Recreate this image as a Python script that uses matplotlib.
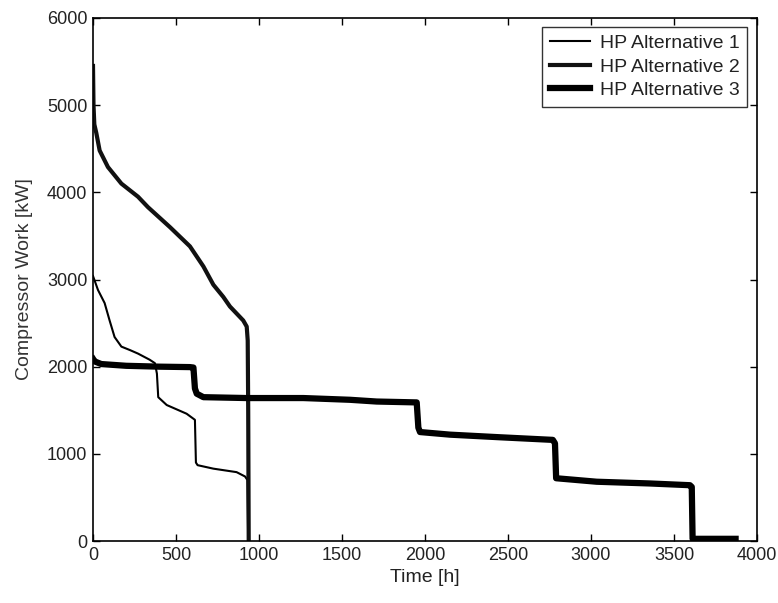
import matplotlib
matplotlib.use("Agg")
import matplotlib.pyplot as plt

plt.rcParams['font.family'] = ['Liberation Sans', 'DejaVu Sans']

# Series data (Time [h], Compressor Work [kW])
time_alt1 = [0, 30, 70, 100, 130, 171, 223, 271, 341, 373, 385, 393, 444, 564, 614, 620, 630, 725, 865, 916, 930, 935]
work_alt1 = [3040, 2880, 2730, 2530, 2340, 2230, 2190, 2150, 2080, 2040, 1920, 1650, 1560, 1460, 1390, 900, 870, 830, 790, 740, 700, 0]

time_alt2 = [0, 3, 8, 20, 40, 90, 171, 271, 331, 464, 584, 665, 725, 785, 825, 905, 926, 932, 935, 938]
work_alt2 = [5450, 5000, 4780, 4680, 4480, 4290, 4100, 3950, 3830, 3600, 3380, 3150, 2940, 2800, 2690, 2530, 2460, 2300, 1500, 0]

time_alt3 = [0, 10, 50, 200, 400, 584, 605, 614, 625, 665, 926, 1267, 1548, 1709, 1950, 1960, 1970, 2151, 2452, 2770, 2783, 2790, 3034, 3355, 3596, 3607, 3612, 3871]
work_alt3 = [2090, 2060, 2030, 2010, 2000, 1995, 1990, 1750, 1690, 1650, 1640, 1640, 1620, 1600, 1590, 1300, 1250, 1220, 1190, 1160, 1120, 720, 680, 660, 640, 620, 25, 25]

labels = ["HP Alternative 1", "HP Alternative 2", "HP Alternative 3"]
x_ticks = [0, 500, 1000, 1500, 2000, 2500, 3000, 3500, 4000]
y_ticks = [0, 1000, 2000, 3000, 4000, 5000, 6000]

fig = plt.figure(figsize=(7.78, 6.03), dpi=100)
ax = fig.add_axes([93/778, 62/603, 664/778, 523/603])

ax.plot(time_alt1, work_alt1, color='black', lw=1.5, label=labels[0])
ax.plot(time_alt2, work_alt2, color='#111111', lw=3.0, label=labels[1])
ax.plot(time_alt3, work_alt3, color='black', lw=4.5, label=labels[2])

ax.set_xlim(0, 4000)
ax.set_ylim(0, 6000)
ax.set_xticks(x_ticks)
ax.set_yticks(y_ticks)
ax.tick_params(direction='in', top=True, right=True, length=5, width=1,
               labelsize=13, colors='black', labelcolor='#222222', pad=4)
for s in ax.spines.values():
    s.set_linewidth(1.2)

ax.set_xlabel("Time [h]", fontsize=14, color='#222222', labelpad=4)
ax.set_ylabel("Compressor Work [kW]", fontsize=14, color='#333333', labelpad=10)

leg = ax.legend(loc='upper right', bbox_to_anchor=(0.985, 0.983), fontsize=14,
                frameon=True, fancybox=False, edgecolor='black', handlelength=2.05,
                borderpad=0.4, labelspacing=0.3, handletextpad=0.5, borderaxespad=0)
leg.get_frame().set_linewidth(1.0)
for t in leg.get_texts():
    t.set_color('#222222')

fig.savefig("out.png", dpi=100)
